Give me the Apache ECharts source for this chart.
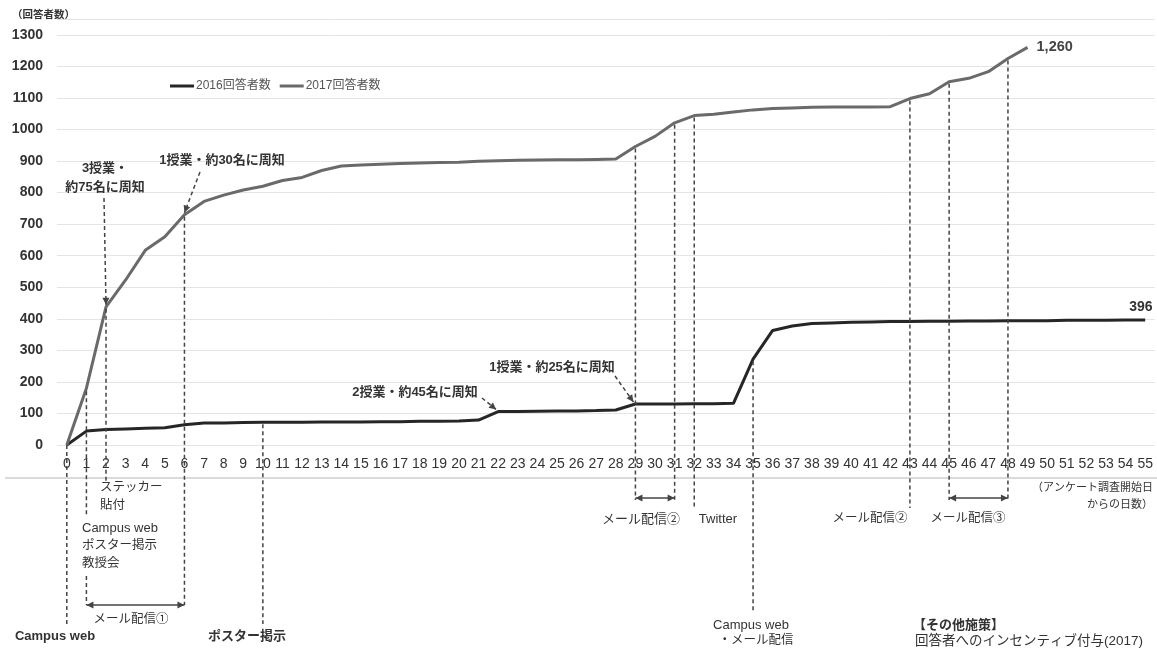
<!DOCTYPE html>
<html>
<head>
<meta charset="utf-8">
<script src="https://cdn.jsdelivr.net/npm/echarts@6/dist/echarts.min.js"></script>
<style>
html,body{margin:0;padding:0;background:#ffffff;}
#c{width:1157px;height:648px;}
</style>
</head>
<body>
<div id="c"></div>
<script>
// ---- data ----
const days = ['0','1','2','3','4','5','6','7','8','9','10','11','12','13','14','15','16','17','18','19',
  '20','21','22','23','24','25','26','27','28','29','30','31','32','33','34','35','36','37','38','39',
  '40','41','42','43','44','45','46','47','48','49','50','51','52','53','54','55'];
const seriesNames = ['2016回答者数', '2017回答者数'];
const responses2016 = [0, 44, 49, 51, 53, 55, 64, 70, 70, 71,
  72, 72, 72, 73, 73, 73, 74, 74, 75, 75,
  76, 79, 106, 106, 107, 108, 108, 109, 111, 130,
  130, 130, 131, 131, 132, 272, 363, 377, 385, 387,
  389, 390, 391, 391, 392, 392, 393, 393, 394, 394,
  394, 395, 395, 395, 396, 396];
const responses2017 = [0, 180, 438, 523, 617, 660, 730, 772, 792, 808,
  820, 838, 848, 870, 884, 887, 890, 892, 894, 895,
  896, 899, 901, 902, 903, 904, 904, 905, 906, 946,
  978, 1021, 1044, 1048, 1055, 1062, 1066, 1068, 1070, 1071,
  1071, 1071, 1072, 1098, 1113, 1151, 1162, 1183, 1225, 1260];
const yAxisTitle = '（回答者数）';
const xAxisTitle = ['（アンケート調査開始日', 'からの日数）'];

const FONT = "'Liberation Sans', 'Noto Sans CJK JP', sans-serif";

const chart = echarts.init(document.getElementById('c'), null, {renderer: 'canvas'});
const option = {
  animation: false,
  backgroundColor: '#ffffff',
  grid: {left: 57, right: 2, top: 19, bottom: 203, containLabel: false},
  legend: {
    data: seriesNames,
    left: 165, top: 75,
    icon: 'rect', itemWidth: 24, itemHeight: 3, itemGap: 9,
    textStyle: {fontSize: 12, color: '#555', fontFamily: FONT, padding: [0, 0, 0, -3]}
  },
  xAxis: {
    type: 'category', data: days, boundaryGap: true,
    axisLine: {show: false}, axisTick: {show: false},
    axisLabel: {interval: 0, margin: 12, fontSize: 14, color: '#333', fontFamily: FONT},
    splitLine: {show: false}
  },
  yAxis: {
    type: 'value', min: 0, max: 1350, interval: 100,
    axisLine: {show: false}, axisTick: {show: false},
    axisLabel: {margin: 14, fontSize: 14, fontWeight: 'bold', color: '#333', fontFamily: FONT,
      formatter: v => (v % 100 === 0 && v <= 1300) ? String(v) : ''},
    splitLine: {lineStyle: {color: '#e4e4e4', width: 1}}
  },
  series: [
    {
      name: seriesNames[0], type: 'line', data: responses2016,
      symbol: 'none', showSymbol: false, z: 3,
      lineStyle: {color: '#262626', width: 3}, itemStyle: {color: '#262626'},
      endLabel: {show: true, formatter: p => Number(p.value).toLocaleString('en-US'),
        offset: [-24, -13], fontSize: 14, fontWeight: 'bold', color: '#333', fontFamily: FONT}
    },
    {
      name: seriesNames[1], type: 'line', data: responses2017,
      symbol: 'none', showSymbol: false, z: 3,
      lineStyle: {color: '#6a6a6a', width: 3}, itemStyle: {color: '#6a6a6a'},
      endLabel: {show: true, formatter: p => Number(p.value).toLocaleString('en-US'),
        distance: 9, fontSize: 14.5, fontWeight: 'bold', color: '#444', fontFamily: FONT}
    }
  ]
};
chart.setOption(option);

// ---- annotations (positions from the chart's own scales) ----
const P = (d, v) => chart.convertToPixel({xAxisIndex: 0, yAxisIndex: 0}, [d, v]);
const X = d => P(d, 0)[0];
const Y16 = d => P(d, responses2016[d])[1];
const Y17 = d => P(d, responses2017[d])[1];
const g = [];
const STROKE = '#444';
function line(x1, y1, x2, y2, dashed) {
  g.push({type: 'line', silent: true, z: 10,
    shape: {x1, y1, x2, y2},
    style: {stroke: STROKE, lineWidth: 1.5, lineDash: dashed ? [4, 3] : null}});
}
function head(x1, y1, x2, y2) {
  const dx = x2 - x1, dy = y2 - y1, L = Math.hypot(dx, dy) || 1;
  const ux = dx / L, uy = dy / L, nx = -uy, ny = ux, s = 7, w = 3.5;
  g.push({type: 'polygon', silent: true, z: 10,
    shape: {points: [[x2, y2], [x2 - ux * s + nx * w, y2 - uy * s + ny * w], [x2 - ux * s - nx * w, y2 - uy * s - ny * w]]},
    style: {fill: STROKE}});
}
function arrow(x1, y1, x2, y2, dashed, both) {
  line(x1, y1, x2, y2, dashed);
  head(x1, y1, x2, y2);
  if (both) head(x2, y2, x1, y1);
}
function text(str, x, y, size, bold, align) {
  g.push({type: 'text', silent: true, z: 11, x, y,
    style: {text: str, font: (bold ? 'bold ' : '') + size + 'px ' + FONT,
      fill: '#333', textAlign: align || 'center', textVerticalAlign: 'middle'}});
}

// axis base line below tick labels
g.push({type: 'line', silent: true, z: 1, shape: {x1: 5, y1: 478, x2: 1157, y2: 478},
  style: {stroke: '#b5b5b5', lineWidth: 1}});

// titles
text(yAxisTitle, 12, 15, 10.5, true, 'left');
text(xAxisTitle[0], 1153, 488, 11, false, 'right');
text(xAxisTitle[1], 1153, 505, 11, false, 'right');

// vertical dashed markers
line(X(0), P(0, 0)[1], X(0), 624, true);
line(X(1), Y17(1) + 3, X(1), 516, true);
line(X(1), 576, X(1), 605, true);
line(X(2), Y17(2) + 2, X(2), 481, true);
line(X(6), Y17(6) + 2, X(6), 605, true);
line(X(10), Y16(10) + 2, X(10), 624, true);
line(X(29), Y17(29) + 2, X(29), 500, true);
line(X(31), Y17(31) + 2, X(31), 500, true);
line(X(32), Y17(32) + 2, X(32), 508, true);
line(X(35), Y16(35) + 2, X(35), 612, true);
line(X(43), Y17(43) + 2, X(43), 508, true);
line(X(45), Y17(45) + 2, X(45), 500, true);
line(X(48), Y17(48) + 2, X(48), 500, true);

// double arrows (mail periods)
arrow(X(1), 605, X(6), 605, false, true);
arrow(X(29), 498, X(31), 498, false, true);
arrow(X(45), 498, X(48), 498, false, true);

// pointer arrows from callouts
arrow(104, 198, X(2), Y17(2) - 2, true, false);
arrow(200, 172, X(6), Y17(6) - 2, true, false);
arrow(482, 398, X(22) - 2, Y16(22) - 2, true, false);
arrow(615, 376, X(29) - 2, Y16(29) - 2, true, false);

// callout texts
text('3授業・', 105, 168, 13, true);
text('約75名に周知', 105, 187, 13, true);
text('1授業・約30名に周知', 222, 160, 13, true);
text('2授業・約45名に周知', 415, 392, 13, true);
text('1授業・約25名に周知', 552, 367, 13, true);

// measures below axis
text('ステッカー', 100, 488, 12.5, false, 'left');
text('貼付', 100, 506, 12.5, false, 'left');
text('Campus web', 82, 528, 13, false, 'left');
text('ポスター掲示', 82, 546, 12.5, false, 'left');
text('教授会', 82, 564, 12.5, false, 'left');
text('メール配信①', 131, 620, 12.5, false);
text('Campus web', 55, 636, 13, true);
text('ポスター掲示', 247, 636, 13, true);
text('メール配信②', 641, 519, 13, false);
text('Twitter', 718, 519, 13, false);
text('Campus web', 751, 625, 13, false);
text('・メール配信', 756, 641, 12.5, false);
text('メール配信②', 870, 519, 12.5, false);
text('メール配信③', 968, 519, 12.5, false);
text('【その他施策】', 913, 625, 13, true, 'left');
text('回答者へのインセンティブ付与(2017)', 915, 641, 13.5, false, 'left');

chart.setOption({graphic: {elements: g}});
</script>
</body>
</html>
